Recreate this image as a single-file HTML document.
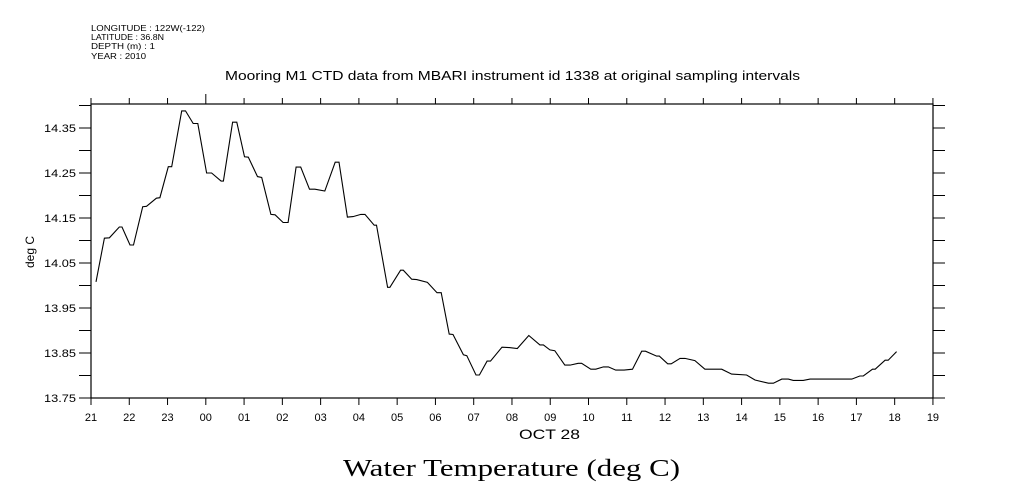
<!DOCTYPE html>
<html><head><meta charset="utf-8"><style>
body{margin:0;background:#fff;}
svg{display:block;font-family:"Liberation Sans",sans-serif;}
</style></head><body>
<svg id="chart" width="1009" height="504" viewBox="0 0 1009 504">
<g font-size="8.5" fill="#000">
<text x="91" y="31" textLength="114" lengthAdjust="spacingAndGlyphs">LONGITUDE : 122W(-122)</text>
<text x="91" y="40" textLength="73" lengthAdjust="spacingAndGlyphs">LATITUDE : 36.8N</text>
<text x="91" y="49" textLength="64" lengthAdjust="spacingAndGlyphs">DEPTH (m) : 1</text>
<text x="91" y="59" textLength="55" lengthAdjust="spacingAndGlyphs">YEAR : 2010</text>
</g>
<text x="225" y="80" textLength="575" lengthAdjust="spacingAndGlyphs" font-size="12.5">Mooring M1 CTD data from MBARI instrument id 1338 at original sampling intervals</text>
<rect x="91" y="104" width="842" height="294" fill="none" stroke="#000" stroke-width="1.2"/>
<g id="axes"></g>
<path id="line" fill="none" stroke="#000" stroke-width="1.1"/>
<text x="519" y="439" textLength="61" lengthAdjust="spacingAndGlyphs" font-size="14">OCT 28</text>
<text transform="translate(34,252) rotate(-90)" text-anchor="middle" font-size="12">deg C</text>
<text x="343" y="476" textLength="337" lengthAdjust="spacingAndGlyphs" font-family="'Liberation Serif',serif" font-size="24">Water Temperature (deg C)</text>
</svg>
<script>
const xTickLabels=["21","22","23","00","01","02","03","04","05","06","07","08","09","10","11","12","13","14","15","16","17","18","19"];
const yTickValues=[14.35,14.25,14.15,14.05,13.95,13.85,13.75];
const yTickLabels=["14.35","14.25","14.15","14.05","13.95","13.85","13.75"];
const hours=[0.13,0.35,0.48,0.74,0.81,1.02,1.11,1.35,1.45,1.71,1.80,2.02,2.11,2.37,2.47,2.67,2.79,3.02,3.15,3.40,3.46,3.70,3.81,4.01,4.11,4.35,4.46,4.70,4.81,5.02,5.15,5.36,5.48,5.71,5.85,6.11,6.38,6.48,6.70,6.85,7.05,7.16,7.40,7.46,7.75,7.81,8.09,8.16,8.38,8.51,8.79,9.04,9.15,9.36,9.46,9.73,9.82,10.06,10.15,10.35,10.44,10.74,10.93,11.14,11.44,11.73,11.82,11.99,12.12,12.38,12.52,12.73,12.82,13.06,13.19,13.39,13.52,13.71,13.93,14.15,14.39,14.49,14.78,14.85,15.07,15.16,15.39,15.52,15.78,16.04,16.48,16.74,17.13,17.35,17.70,17.83,18.05,18.22,18.35,18.61,18.79,19.88,20.09,20.18,20.42,20.49,20.75,20.83,21.05];
const temps=[14.008,14.105,14.106,14.13,14.13,14.09,14.09,14.175,14.176,14.194,14.195,14.264,14.264,14.388,14.388,14.36,14.36,14.25,14.25,14.232,14.232,14.363,14.363,14.286,14.285,14.242,14.24,14.158,14.157,14.14,14.14,14.263,14.263,14.214,14.214,14.21,14.274,14.274,14.152,14.153,14.158,14.158,14.134,14.134,13.996,13.996,14.034,14.034,14.014,14.013,14.007,13.984,13.984,13.892,13.891,13.846,13.844,13.801,13.801,13.832,13.832,13.863,13.862,13.86,13.889,13.868,13.868,13.857,13.855,13.823,13.823,13.827,13.827,13.814,13.814,13.819,13.819,13.812,13.812,13.814,13.854,13.854,13.843,13.843,13.826,13.826,13.838,13.838,13.833,13.814,13.814,13.803,13.801,13.79,13.783,13.783,13.792,13.792,13.789,13.789,13.792,13.792,13.799,13.799,13.814,13.814,13.834,13.834,13.853];
const X0=91,PXH=38.27,Y0=128,V0=14.35,PXV=450;
function xs(h){return X0+h*PXH;}
function ys(v){return Y0+(V0-v)*PXV;}
const NS="http://www.w3.org/2000/svg";
const ax=document.getElementById('axes');
function ln(x1,y1,x2,y2,name){const l=document.createElementNS(NS,'line');l.setAttribute('x1',x1);l.setAttribute('y1',y1);l.setAttribute('x2',x2);l.setAttribute('y2',y2);l.setAttribute('stroke','#000');l.setAttribute('stroke-width','1');


ax.appendChild(l);}
function tx(x,y,s,anchor,name,len){const t=document.createElementNS(NS,'text');t.setAttribute('x',x);t.setAttribute('y',y);t.setAttribute('font-size','11');t.setAttribute('text-anchor',anchor);if(len){t.setAttribute('textLength',len);t.setAttribute('lengthAdjust','spacingAndGlyphs');}t.textContent=s;


ax.appendChild(t);}
xTickLabels.forEach((lab,i)=>{const x=xs(i);
ln(x,398,x,405,'x-tick');
ln(x,104,x,lab==="00"?94:98,'x-top-tick');
tx(x,421,lab,'middle','x-tick-label');});
yTickValues.forEach((v,i)=>{const y=ys(v);
ln(79,y,91,y,'y-tick');ln(933,y,945,y,'y-right-tick');
tx(76,y+4,yTickLabels[i],'end','y-tick-label',32);
const y2=ys(v+0.05);if(y2>=104){ln(79,y2,91,y2,'y-minor-tick');ln(933,y2,945,y2,'y-right-minor-tick');}});
let d='';hours.forEach((h,i)=>{d+=(i?'L':'M')+xs(h).toFixed(1)+' '+ys(temps[i]).toFixed(1);});
document.getElementById('line').setAttribute('d',d);
</script>
</body></html>
